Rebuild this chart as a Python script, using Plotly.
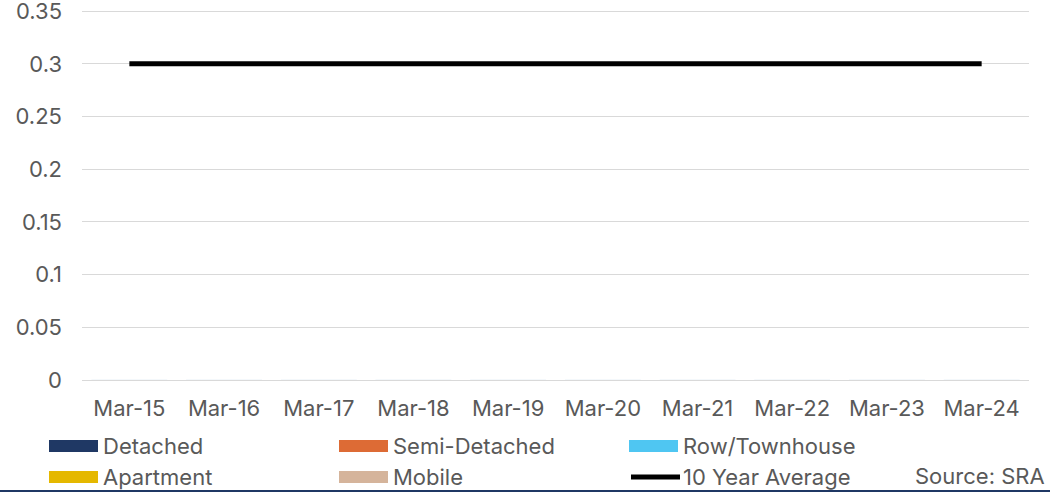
import plotly.graph_objects as go

categories = ["Mar-15", "Mar-16", "Mar-17", "Mar-18", "Mar-19", "Mar-20", "Mar-21", "Mar-22", "Mar-23", "Mar-24"]
detached = [0, 0, 0, 0, 0, 0, 0, 0, 0, 0]
semi_detached = [0, 0, 0, 0, 0, 0, 0, 0, 0, 0]
row_townhouse = [0, 0, 0, 0, 0, 0, 0, 0, 0, 0]
apartment = [0, 0, 0, 0, 0, 0, 0, 0, 0, 0]
mobile = [0, 0, 0, 0, 0, 0, 0, 0, 0, 0]
ten_year_avg = [0.3, 0.3, 0.3, 0.3, 0.3, 0.3, 0.3, 0.3, 0.3, 0.3]
y_ticks = [0, 0.05, 0.1, 0.15, 0.2, 0.25, 0.3, 0.35]
y_tick_labels = ["0", "0.05", "0.1", "0.15", "0.2", "0.25", "0.3", "0.35"]

series = [
    ("Detached", detached, "#1f3864"),
    ("Semi-Detached", semi_detached, "#dd6b35"),
    ("Row/Townhouse", row_townhouse, "#4fc6f2"),
    ("Apartment", apartment, "#e5b800"),
    ("Mobile", mobile, "#d5b49b"),
]

W, H = 1050, 492
YMAX = 0.352
L, R, B = 82, 21, 112
T = 9
pw, ph = W - L - R, H - T - B
FONT = "Inter"
FS = 22
GRAY = "#595959"

def px2x(px):
    return (px - L) / pw

def py2y(py):
    return (H - B - py) / ph

fig = go.Figure()
for name, vals, col in series:
    fig.add_trace(go.Bar(x=categories, y=vals, name=name, marker_color=col, showlegend=False))
fig.add_trace(go.Scatter(x=categories, y=ten_year_avg, name="10 Year Average", mode="lines",
                         line=dict(color="black", width=5), showlegend=False))

shapes = []
annotations = []
legend_items = [
    ("Detached", "#1f3864", "bar", 49, 446),
    ("Semi-Detached", "#dd6b35", "bar", 339, 446),
    ("Row/Townhouse", "#4fc6f2", "bar", 629, 446),
    ("Apartment", "#e5b800", "bar", 49, 477),
    ("Mobile", "#d5b49b", "bar", 339, 477),
    ("10 Year Average", "black", "line", 629, 477),
]
for name, col, kind, x0, yc in legend_items:
    if kind == "bar":
        shapes.append(dict(type="rect", xref="paper", yref="paper",
                           x0=px2x(x0), x1=px2x(x0 + 49), y0=py2y(yc - 6), y1=py2y(yc + 6),
                           fillcolor=col, line=dict(width=0)))
    else:
        shapes.append(dict(type="line", xref="paper", yref="paper",
                           x0=px2x(x0 + 2), x1=px2x(x0 + 51), y0=py2y(yc), y1=py2y(yc),
                           line=dict(color=col, width=5)))
    annotations.append(dict(text=name, xref="paper", yref="paper", x=px2x(x0 + 52), y=py2y(yc),
                            xanchor="left", yanchor="middle", showarrow=False,
                            font=dict(family=FONT, size=FS, color=GRAY)))

annotations.append(dict(text="Source: SRA", xref="paper", yref="paper", x=px2x(1047), y=py2y(476),
                        xanchor="right", yanchor="middle", showarrow=False,
                        font=dict(family=FONT, size=FS, color=GRAY)))
shapes.append(dict(type="line", xref="paper", yref="paper", x0=px2x(0), x1=px2x(W), y0=py2y(491), y1=py2y(491),
                   line=dict(color="#1f3864", width=2)))

fig.update_layout(
    width=W, height=H,
    margin=dict(l=L, r=R, t=T, b=B, autoexpand=False),
    plot_bgcolor="white", paper_bgcolor="white",
    barmode="group",
    font=dict(family=FONT, size=FS, color=GRAY),
    xaxis=dict(showgrid=False, showline=False, ticks="", tickfont=dict(size=FS, color=GRAY), ticklabelstandoff=13,
               automargin=False),
    yaxis=dict(range=[0, YMAX], tickvals=y_ticks, ticktext=y_tick_labels, showgrid=True, gridcolor="#d9d9d9",
               gridwidth=1, zeroline=True, zerolinecolor="#d9d9d9", zerolinewidth=1, showline=False, ticks="",
               tickfont=dict(size=FS, color=GRAY), ticklabelstandoff=19, ticklabeloverflow="allow",
               automargin=False),
    shapes=shapes,
    annotations=annotations,
    showlegend=False,
)

fig.write_html("out.html", config={"displayModeBar": False},
               post_script="document.body.style.margin='0';document.body.style.overflow='hidden';")
